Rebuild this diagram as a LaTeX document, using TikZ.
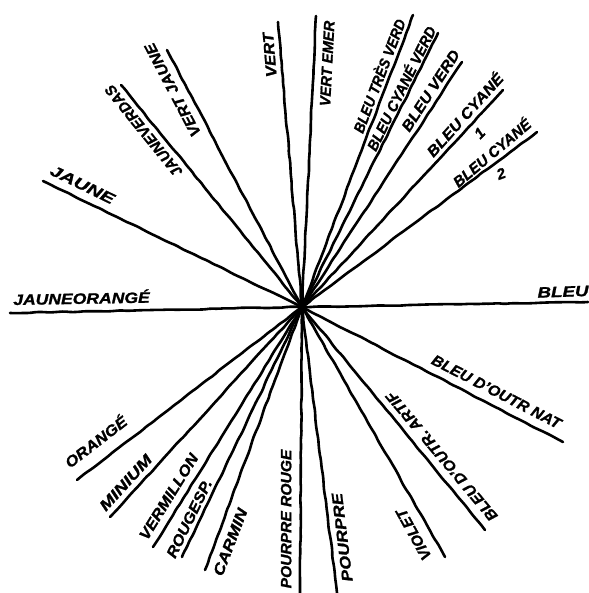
\documentclass[tikz,border=0pt]{standalone}
\usepackage{fontspec}
\usepackage{graphicx}
\usetikzlibrary{decorations.pathmorphing}
\newfontfamily\handfont{Liberation Sans}
\newcommand{\handtype}{\handfont\bfseries\itshape\addfontfeature{FakeBold=1.2}\fontsize{15}{15}\selectfont}
\newcommand{\lab}[5]{\node[lab, rotate=#3] (#1) at (#2) {\scalebox{#4}[1]{#5}};}
\tikzset{
  lab/.style={inner sep=0pt, text height=10.7pt, text depth=0pt, font=\handtype, anchor=center},
  ray/.style={line width=2.6pt, line cap=round, line join=round,
    decorate, decoration={random steps, segment length=7pt, amplitude=0.5pt}, rounded corners=2pt}
}
\begin{document}
\begin{tikzpicture}[x=1pt,y=-1pt]
\pgfmathsetseed{11}
\fill[white] (0,0) rectangle (588,593);
\useasboundingbox (0,0) rectangle (588,593);
\coordinate (C) at (302,307);
% outer ends
\coordinate (eJaune) at (43,181);
\coordinate (eJauneVerd) at (121,85);
\coordinate (eVertJaune) at (167,50);
\coordinate (eVert) at (278,22);
\coordinate (eVertEmer) at (316,16);
\coordinate (eBTV) at (413,15);
\coordinate (eBCV) at (438,33);
\coordinate (eBV) at (462,62);
\coordinate (eBCa) at (503,90);
\coordinate (eBCb) at (537,132);
\coordinate (eBleu) at (588,302);
\coordinate (eJO) at (10,313);
\coordinate (eOrange) at (77,480);
\coordinate (eMinium) at (110,517);
\coordinate (eVerm) at (153,547);
\coordinate (eRouge) at (182,557);
\coordinate (eCarmin) at (205,570);
\coordinate (ePR) at (300,593);
\coordinate (ePourpre) at (337,593);
\coordinate (eViolet) at (445,557);
\coordinate (eArtif) at (485,530);
\coordinate (eNat) at (563,442);
% rays
\foreach \e in {eJaune,eJauneVerd,eVertJaune,eVert,eVertEmer,eBTV,eBCV,eBV,eBCa,eBCb,eBleu,eJO,eOrange,eMinium,eVerm,eRouge,eCarmin,ePR,ePourpre,eViolet,eArtif,eNat}
  \draw[ray] (C) -- (\e);
% labels
\lab{tJaune}{82.5,184.5}{-26}{1.37}{JAUNE}
\lab{tJauneVerd}{143.5,131}{129}{1.0}{JAUNEVERDAS}
\lab{tVertJaune}{172.5,90}{117.7}{1.09}{VERT JAUNE}
\lab{tVert}{269.5,55}{94.8}{1.12}{VERT}
\lab{tVertEmer}{327,63.5}{87}{0.98}{VERT EMER}
\lab{tBTV}{379.5,76}{69}{0.92}{BLEU TRÈS VERD}
\lab{tBCV}{401.5,88.5}{63.6}{0.96}{BLEU CYANÉ VERD}
\lab{tBV}{430.5,90.5}{57}{1.08}{BLEU VERD}
\lab{tBCa}{465,115}{48}{1.1}{BLEU CYANÉ}
\lab{tOne}{479.5,133}{45}{1.0}{1}
\lab{tBCb}{492,153}{40}{1.0}{BLEU CYANÉ}
\lab{tTwo}{501,173.5}{20}{1.0}{2}
\lab{tBleu}{563,291.5}{2}{1.25}{BLEU}
\lab{tJO}{81.5,298.5}{1}{1.17}{JAUNEORANGÉ}
\lab{tOrange}{96,442}{37.6}{1.12}{ORANGÉ}
\lab{tMinium}{125.5,482.5}{47.6}{1.27}{MINIUM}
\lab{tVerm}{168.5,496.5}{58.2}{1.11}{VERMILLON}
\lab{tRouge}{189,518.5}{64}{1.1}{ROUGESP.}
\lab{tCarmin}{230,542}{69}{1.18}{CARMIN}
\lab{tPR}{286,519}{90}{1.04}{POURPRE ROUGE}
\lab{tPourpre}{342,537.5}{97}{1.2}{POURPRE}
\lab{tViolet}{413.5,534.5}{119}{1.04}{VIOLET}
\lab{tArtif}{441.5,456.5}{130}{1.06}{BLEU D’OUTR. ARTIF}
\lab{tNat}{496.5,391.5}{-27.3}{1.05}{BLEU D’OUTR NAT}
\end{tikzpicture}
\end{document}
